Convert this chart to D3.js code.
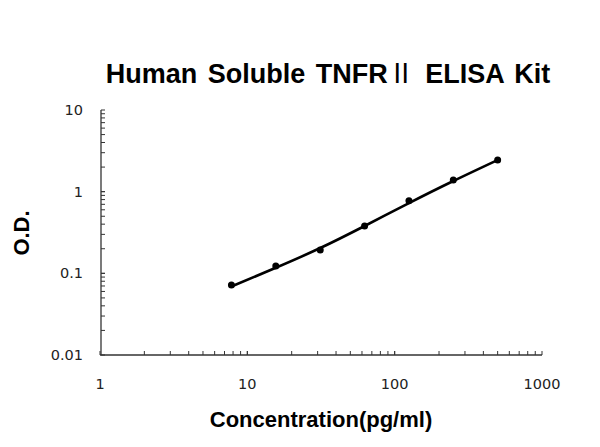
<!DOCTYPE html>
<html>
<head>
<meta charset="utf-8">
<script src="https://cdn.jsdelivr.net/npm/d3@7"></script>
<style>
  body { margin: 0; background: #fff; }
  svg { display: block; }
</style>
</head>
<body>
<svg width="600" height="447"></svg>
<script>
// standard concentrations (pg/ml) and measured O.D.
var conc = [7.8, 15.6, 31.25, 62.5, 125, 250, 500];
var od = [0.072, 0.123, 0.193, 0.38, 0.776, 1.39, 2.44];
// fitted curve at the same concentrations
var fitOd = [0.069, 0.117, 0.204, 0.38, 0.724, 1.35, 2.44];
var xTicks = [1, 10, 100, 1000];
var yTicks = [0.01, 0.1, 1, 10];

var svg = d3.select("svg");

var x = d3.scaleLog().domain([1, 1000]).range([100, 542]);
var y = d3.scaleLog().domain([0.01, 10]).range([355, 110]);

// minor ticks for every decade
function minors(lo, hi) {
  var out = [];
  for (var d = lo; d < hi; d *= 10)
    for (var k = 1; k <= 10; k++) out.push(+(d * k).toPrecision(3));
  return out;
}

// x axis
var gx = svg.append("g").attr("transform", "translate(0,355)");
gx.append("line").attr("x1", x(1)).attr("x2", x(1000)).attr("stroke", "#333").attr("stroke-width", 1.3);
gx.selectAll(".mt").data(minors(1, 1000)).enter().append("line")
    .attr("x1", d => x(d)).attr("x2", d => x(d))
    .attr("y1", 0).attr("y2", -4)
    .attr("stroke", "#333").attr("stroke-width", 1);
gx.selectAll("text").data(xTicks).enter().append("text")
    .attr("x", d => x(d)).attr("y", 34)
    .attr("text-anchor", "middle")
    .attr("font-family", "DejaVu Sans, sans-serif").attr("font-size", 14.5)
    .attr("fill", "#222")
    .text(d => d);

// y axis
var gy = svg.append("g").attr("transform", "translate(101,0)");
gy.append("line").attr("y1", y(0.01)).attr("y2", y(10)).attr("stroke", "#333").attr("stroke-width", 1.3);
gy.selectAll(".mt").data(minors(0.01, 10)).enter().append("line")
    .attr("y1", d => y(d)).attr("y2", d => y(d))
    .attr("x1", 0).attr("x2", 4)
    .attr("stroke", "#333").attr("stroke-width", 1);
gy.selectAll("text").data(yTicks).enter().append("text")
    .attr("x", -18).attr("y", d => y(d) + 5)
    .attr("text-anchor", "end")
    .attr("font-family", "DejaVu Sans, sans-serif").attr("font-size", 14.5)
    .attr("fill", "#222")
    .text(d => d);

// fitted curve
var fit = conc.map((c, i) => [c, fitOd[i]]);
svg.append("path")
    .datum(fit)
    .attr("fill", "none")
    .attr("stroke", "#000")
    .attr("stroke-width", 2.6)
    .attr("d", d3.line().x(d => x(d[0])).y(d => y(d[1])).curve(d3.curveNatural));

// points
svg.selectAll(".pt").data(conc).enter().append("circle")
    .attr("cx", d => x(d))
    .attr("cy", (d, i) => y(od[i]))
    .attr("r", 3.5)
    .attr("fill", "#000");

// titles
var title = svg.append("text")
    .attr("x", 328).attr("y", 83)
    .attr("text-anchor", "middle")
    .attr("font-family", "Liberation Sans, Arial, sans-serif")
    .attr("font-weight", "bold").attr("font-size", 27)
    .attr("word-spacing", 3);
title.append("tspan").text("Human Soluble TNFR");
title.append("tspan")
    .attr("font-family", "Noto Sans CJK SC, sans-serif")
    .attr("font-weight", "normal")
    .text("Ⅱ");
title.append("tspan").text(" ELISA Kit");

svg.append("text")
    .attr("x", 321).attr("y", 427)
    .attr("text-anchor", "middle")
    .attr("font-family", "Liberation Sans, Arial, sans-serif")
    .attr("font-weight", "bold").attr("font-size", 22)
    .text("Concentration(pg/ml)");

svg.append("text")
    .attr("transform", "translate(29,233) rotate(-90)")
    .attr("text-anchor", "middle")
    .attr("font-family", "Liberation Sans, Arial, sans-serif")
    .attr("font-weight", "bold").attr("font-size", 22)
    .text("O.D.");
</script>
</body>
</html>
